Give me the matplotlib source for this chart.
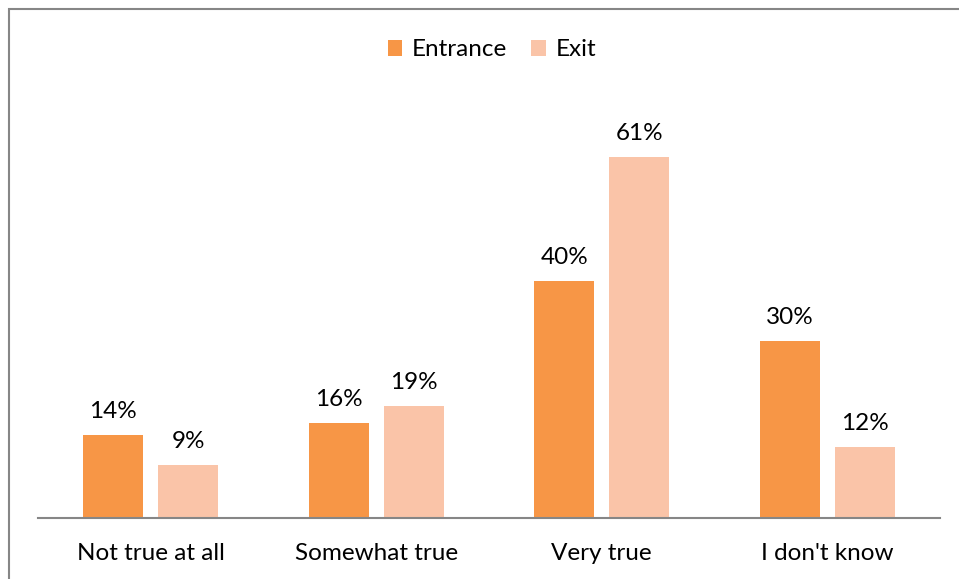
import matplotlib.pyplot as plt
from matplotlib.patches import Rectangle
import numpy as np

# dados do grafico
categories = ['Not true at all', 'Somewhat true', 'Very true', "I don't know"]
entrance = [14, 16, 40, 30]
exit_ = [9, 19, 61, 12]

plt.rcParams['font.family'] = ['Lato', 'DejaVu Sans']

W, H = 959, 579
fig = plt.figure(figsize=(W / 100, H / 100), dpi=100)

# moldura cinza em volta do grafico
fig.patches.append(Rectangle((8.5 / W, -0.1), 1.1, (H - 9.5) / H + 0.1,
                             transform=fig.transFigure, fill=False,
                             edgecolor='#868686', linewidth=1.5))

ax = fig.add_axes([38 / W, (H - 518) / H, (940 - 38) / W, 414 / H])

x = np.arange(len(categories))
width = 60 / 225.5
offset = 37.5 / 225.5

bars1 = ax.bar(x - offset, entrance, width, color='#F79646', label='Entrance')
bars2 = ax.bar(x + offset, exit_, width, color='#FAC4A8', label='Exit')

for bars, values in [(bars1, entrance), (bars2, exit_)]:
    for b, v in zip(bars, values):
        ax.text(b.get_x() + b.get_width() / 2, v + 2.2, f'{v}%',
                ha='center', va='bottom', fontsize=17.5)

ax.set_xlim(-0.5, 3.5)
ax.set_ylim(0, 70)
ax.set_xticks(x)
ax.set_xticklabels(categories, fontsize=17.5)
ax.tick_params(axis='x', length=0, pad=18)
ax.set_yticks([])
for s in ['top', 'right', 'left']:
    ax.spines[s].set_visible(False)
ax.spines['bottom'].set_color('#868686')
ax.spines['bottom'].set_linewidth(1.5)

fig.legend(loc='center', bbox_to_anchor=(492 / W, 1 - 50 / H), ncol=2,
           frameon=False, fontsize=17.5, handlelength=0.6, handleheight=0.6,
           handletextpad=0.4, columnspacing=1.0)

fig.savefig('out.png', dpi=100)
